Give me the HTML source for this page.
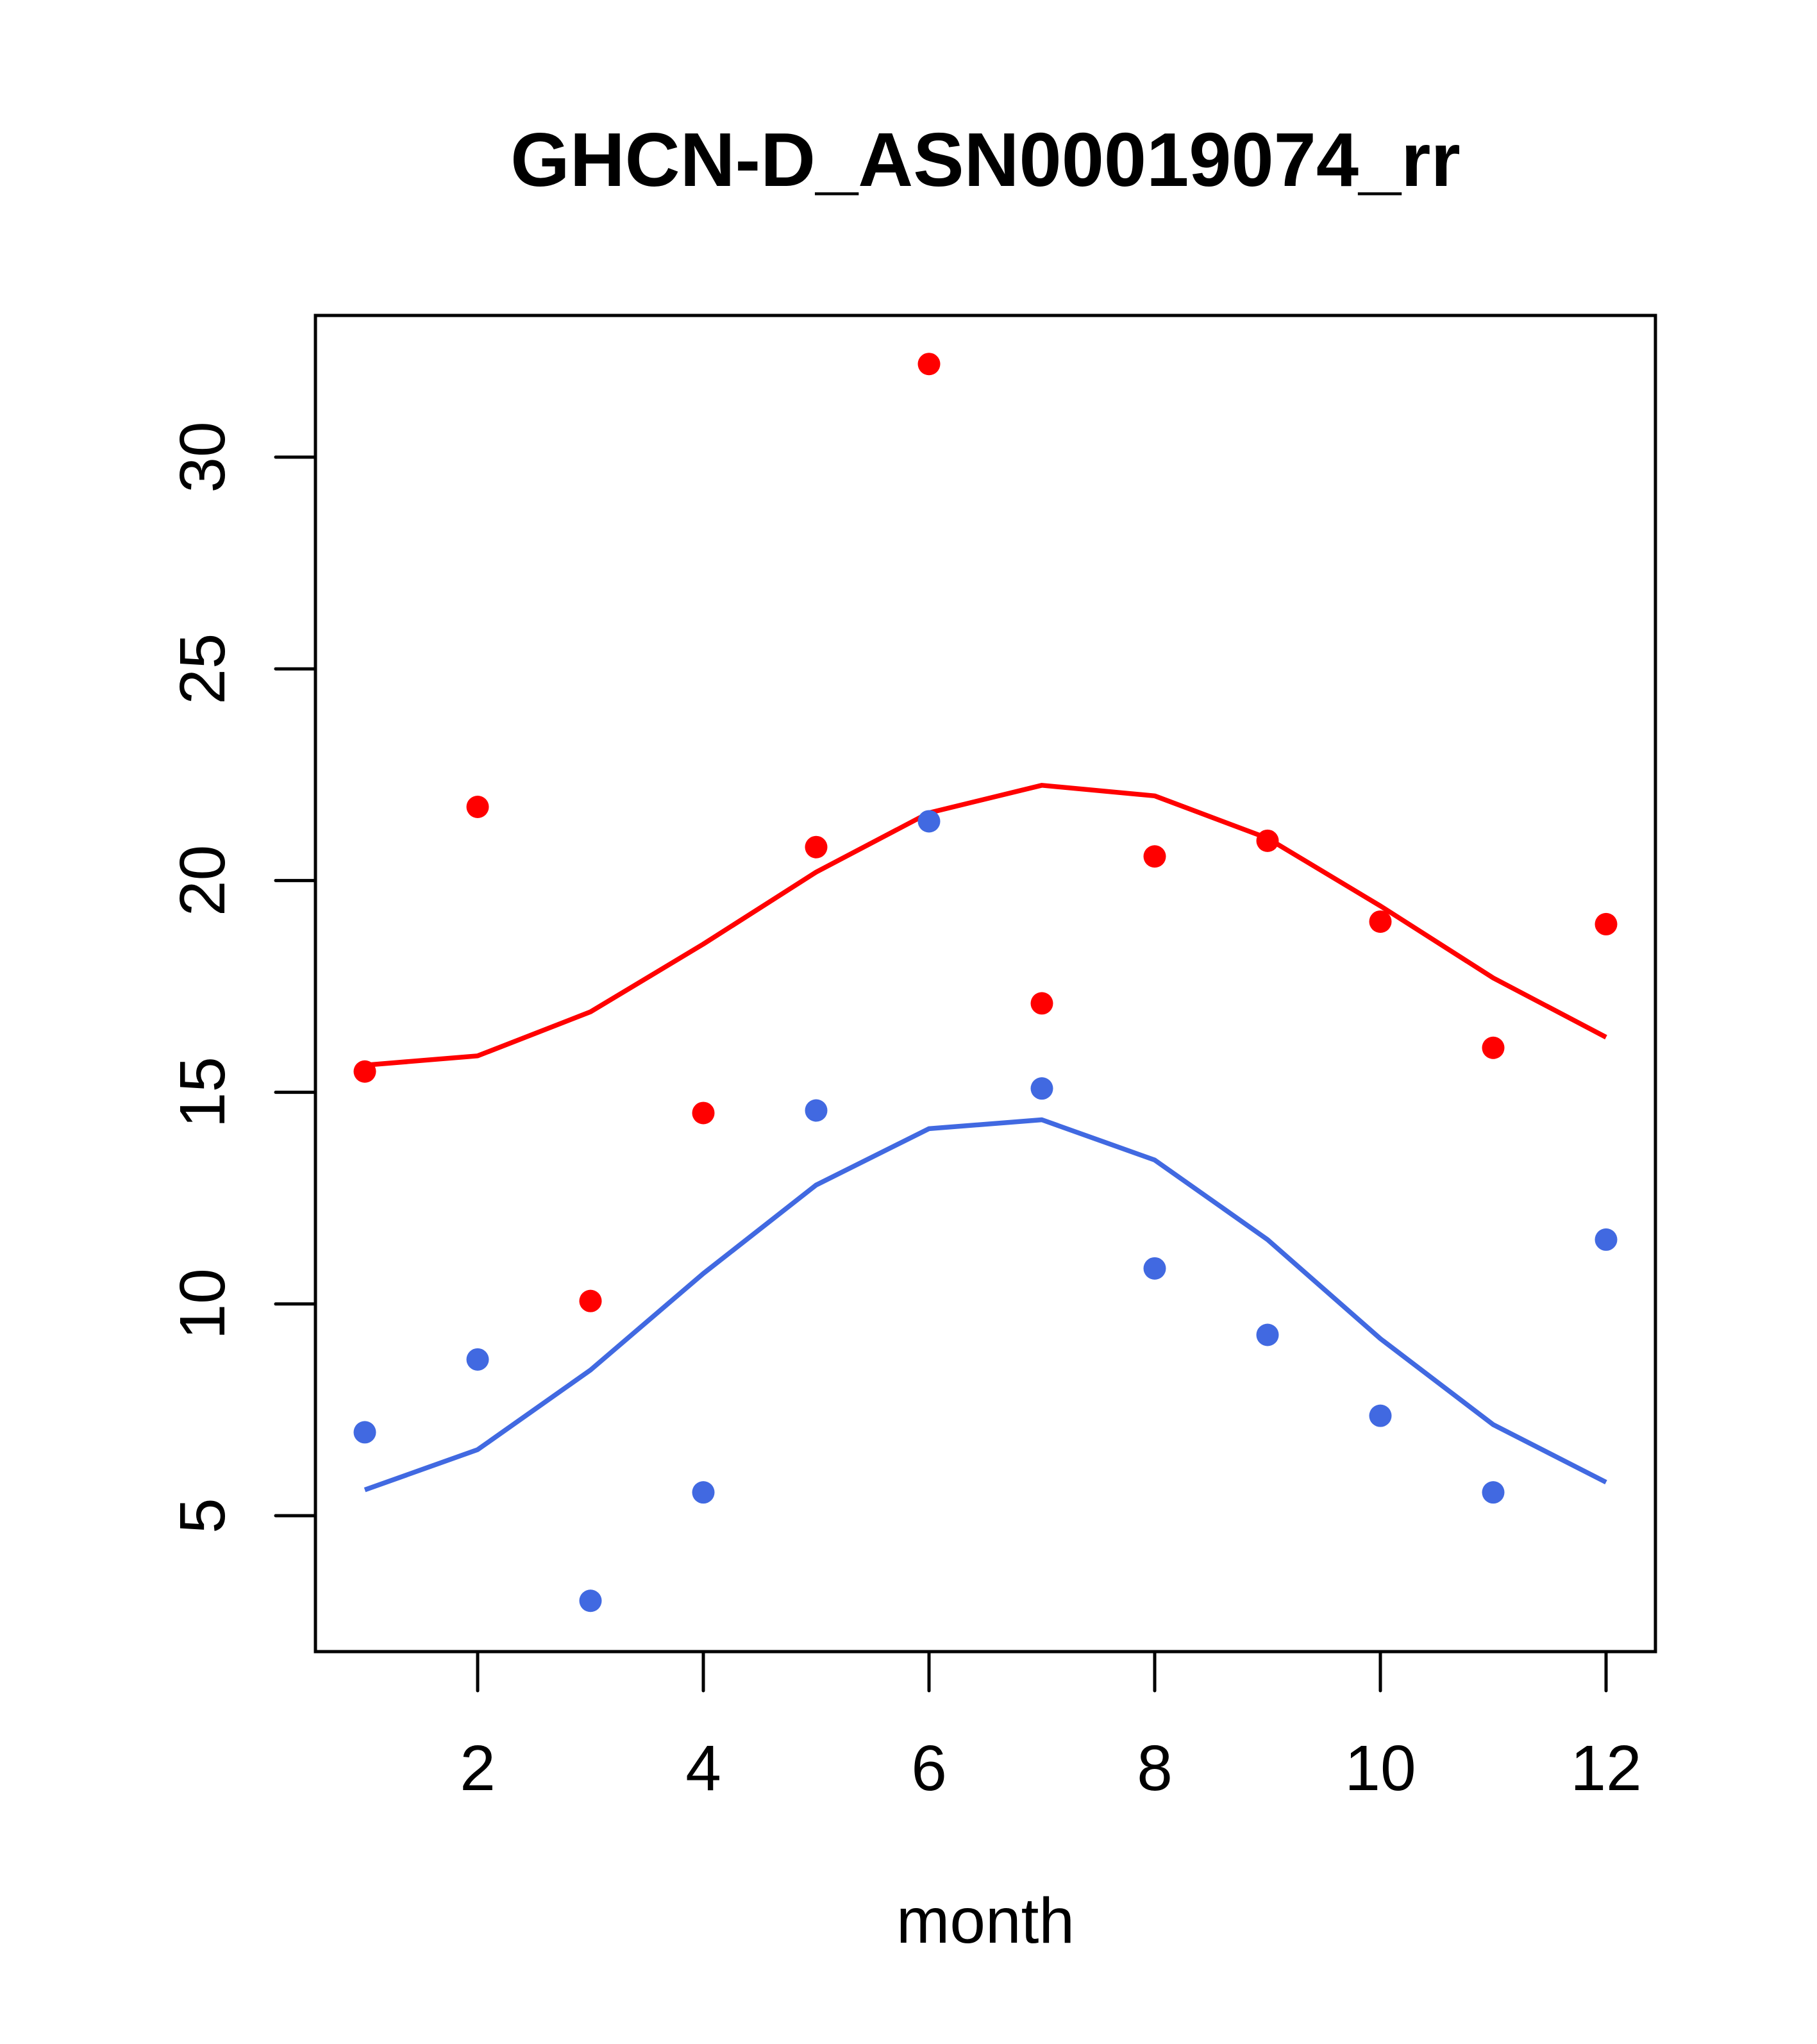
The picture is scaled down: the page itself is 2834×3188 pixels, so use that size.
<!DOCTYPE html>
<html><head><meta charset="utf-8"><style>
html,body{margin:0;padding:0;background:#fff}
svg{display:block}
text{font-family:"Liberation Sans",Arial,sans-serif;fill:#000}
</style></head><body>
<svg id="chart" width="2834" height="3188" viewBox="0 0 2834 3188" xmlns="http://www.w3.org/2000/svg">
<text x="1537" y="290" font-size="119" font-weight="bold" text-anchor="middle">GHCN-D_ASN00019074_rr</text>
<rect x="492" y="492" width="2090" height="2084" fill="none" stroke="#000" stroke-width="5"/>
<g id="xaxis"></g>
<g id="yaxis"></g>
<text x="1537" y="3030" font-size="100" text-anchor="middle">month</text>
<g id="marks"></g>
</svg>
<script>
const months = [1,2,3,4,5,6,7,8,9,10,11,12];
const redPoints = [15.49,21.74,10.07,14.51,20.79,32.2,17.1,20.57,20.94,19.03,16.05,18.97];
const redLine = [15.64,15.86,16.9,18.5,20.2,21.6,22.25,22.0,21.0,19.4,17.7,16.3];
const bluePoints = [6.97,8.69,2.99,5.55,14.57,21.4,15.09,10.84,9.27,7.36,5.55,11.52];
const blueLine = [5.61,6.56,8.44,10.72,12.81,14.14,14.35,13.40,11.52,9.18,7.15,5.79];
const xTicks = [2,4,6,8,10,12];
const yTicks = [5,10,15,20,25,30];

const NS = "http://www.w3.org/2000/svg";
function X(m){ return 569 + (m-1)*176; }
function Y(v){ return 713 + (30-v)*66.04; }
function mk(tag, attrs, parent){
  const e = document.createElementNS(NS, tag);
  for (const k in attrs) e.setAttribute(k, attrs[k]);
  parent.appendChild(e); return e;
}
const xa = document.getElementById('xaxis');
const ya = document.getElementById('yaxis');
const mg = document.getElementById('marks');
xTicks.forEach(t => {
  const l = mk('line', {x1:X(t), x2:X(t), y1:2576, y2:2637, stroke:'#000','stroke-width':5,'stroke-linecap':'round'}, xa);
  
  
  const tx = mk('text', {x:X(t), y:2792, 'font-size':100, 'text-anchor':'middle'}, xa);
  tx.textContent = t;
  
  
});
yTicks.forEach(t => {
  const l = mk('line', {x1:430, x2:492, y1:Y(t), y2:Y(t), stroke:'#000','stroke-width':5,'stroke-linecap':'round'}, ya);
  
  
  const tx = mk('text', {x:0, y:0, 'font-size':100, 'text-anchor':'middle', transform:`translate(350,${Y(t)}) rotate(-90)`}, ya);
  tx.textContent = t;
  
  
});
function drawLine(vals, color, name){
  const p = mk('polyline', {points: vals.map((v,i)=>X(months[i])+','+Y(v)).join(' '), fill:'none', stroke:color, 'stroke-width':7.5, 'stroke-linejoin':'round'}, mg);
  
  
}
function drawPts(vals, color, name){
  vals.forEach((v,i) => {
    const c = mk('circle', {cx:X(months[i]), cy:Y(v), r:17.5, fill:color}, mg);
    
    
  });
}
drawLine(redLine, '#ff0000', 'red-line');
drawLine(blueLine, '#4169e1', 'blue-line');
drawPts(redPoints, '#ff0000', 'red-point');
drawPts(bluePoints, '#4169e1', 'blue-point');
</script>
</body></html>
